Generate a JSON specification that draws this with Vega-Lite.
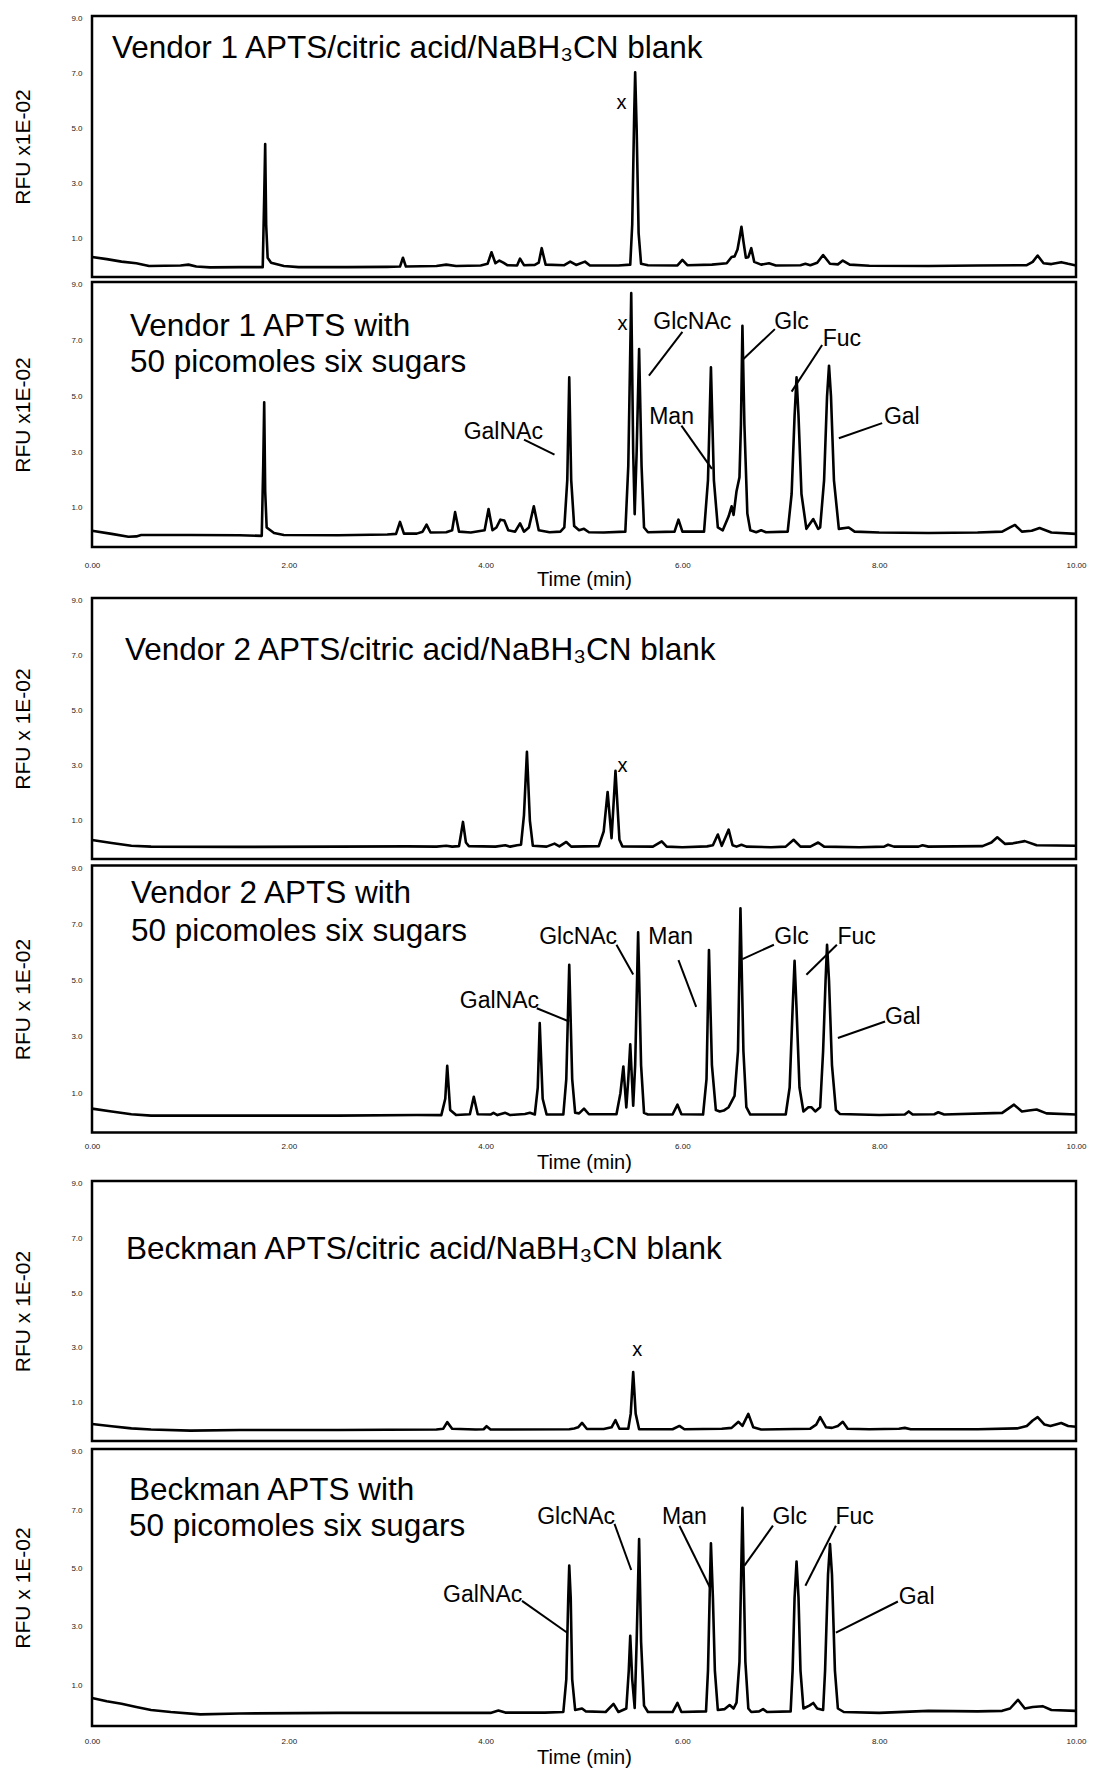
{
  "$schema": "https://vega.github.io/schema/vega-lite/v6.json",
  "background": "white",
  "padding": {"left": 11, "top": 13, "right": 5, "bottom": 0},
  "spacing": 4,
  "config": {
    "font": "Liberation Sans",
    "view": {"stroke": "black", "strokeWidth": 2.5},
    "axis": {"grid": false, "ticks": false, "domain": false, "labelFontSize": 8, "labelColor": "#222", "titleFontWeight": "normal", "titleColor": "black"},
    "axisY": {"labelPadding": 10, "titleFontSize": 21, "titlePadding": 37},
    "axisX": {"titleFontSize": 20, "labelFlush": false, "labelOverlap": false}
  },
  "datasets": {
    "tr1": [
      {"t":0,"v":0.33},{"t":0.15,"v":0.25},{"t":0.3,"v":0.16},{"t":0.45,"v":0.1},{"t":0.58,"v":0.0},{"t":0.9,"v":0.02},{"t":0.98,"v":0.05},{"t":1.06,"v":-0.02},{"t":1.2,"v":-0.05},{"t":1.5,"v":-0.04},{"t":1.735,"v":-0.04},{"t":1.75,"v":2.5},{"t":1.76,"v":4.44},{"t":1.77,"v":1.5},{"t":1.785,"v":0.3},{"t":1.82,"v":0.12},{"t":1.95,"v":0.0},{"t":2.1,"v":-0.04},{"t":2.6,"v":-0.04},{"t":3.0,"v":-0.03},{"t":3.13,"v":-0.02},{"t":3.16,"v":0.3},{"t":3.19,"v":-0.02},{"t":3.5,"v":0.0},{"t":3.6,"v":0.05},{"t":3.7,"v":0.0},{"t":3.95,"v":0.02},{"t":4.02,"v":0.08},{"t":4.06,"v":0.5},{"t":4.1,"v":0.1},{"t":4.14,"v":0.2},{"t":4.18,"v":0.12},{"t":4.22,"v":0.03},{"t":4.32,"v":0.02},{"t":4.35,"v":0.27},{"t":4.39,"v":0.03},{"t":4.5,"v":0.04},{"t":4.54,"v":0.12},{"t":4.57,"v":0.65},{"t":4.61,"v":0.05},{"t":4.8,"v":0.03},{"t":4.86,"v":0.16},{"t":4.92,"v":0.04},{"t":5.01,"v":0.16},{"t":5.06,"v":0.02},{"t":5.35,"v":0.02},{"t":5.47,"v":0.05},{"t":5.49,"v":1.5},{"t":5.51,"v":5.5},{"t":5.52,"v":7.05},{"t":5.535,"v":5.0},{"t":5.555,"v":1.2},{"t":5.58,"v":0.08},{"t":5.65,"v":0.03},{"t":5.95,"v":0.02},{"t":6.0,"v":0.22},{"t":6.05,"v":0.03},{"t":6.3,"v":0.05},{"t":6.45,"v":0.1},{"t":6.5,"v":0.33},{"t":6.53,"v":0.35},{"t":6.56,"v":0.6},{"t":6.58,"v":1.0},{"t":6.6,"v":1.43},{"t":6.62,"v":0.9},{"t":6.645,"v":0.3},{"t":6.67,"v":0.32},{"t":6.7,"v":0.65},{"t":6.73,"v":0.15},{"t":6.8,"v":0.05},{"t":6.88,"v":0.1},{"t":6.95,"v":0.02},{"t":7.2,"v":0.03},{"t":7.25,"v":0.08},{"t":7.3,"v":0.03},{"t":7.37,"v":0.12},{"t":7.43,"v":0.4},{"t":7.5,"v":0.08},{"t":7.58,"v":0.06},{"t":7.63,"v":0.2},{"t":7.7,"v":0.05},{"t":7.9,"v":0.01},{"t":8.5,"v":0.0},{"t":9.0,"v":0.02},{"t":9.5,"v":0.03},{"t":9.56,"v":0.15},{"t":9.61,"v":0.38},{"t":9.67,"v":0.1},{"t":9.75,"v":0.07},{"t":9.85,"v":0.14},{"t":9.92,"v":0.08},{"t":10,"v":0.02}
    ],
    "tr2": [
      {"t":0,"v":0.18},{"t":0.2,"v":0.07},{"t":0.37,"v":-0.03},{"t":0.45,"v":-0.02},{"t":0.5,"v":0.03},{"t":1.0,"v":0.03},{"t":1.5,"v":0.02},{"t":1.725,"v":0.0},{"t":1.74,"v":2.5},{"t":1.75,"v":4.79},{"t":1.76,"v":1.6},{"t":1.775,"v":0.3},{"t":1.85,"v":0.1},{"t":1.95,"v":0.03},{"t":2.5,"v":0.02},{"t":3.0,"v":0.05},{"t":3.09,"v":0.07},{"t":3.13,"v":0.5},{"t":3.17,"v":0.08},{"t":3.3,"v":0.08},{"t":3.36,"v":0.15},{"t":3.4,"v":0.4},{"t":3.44,"v":0.12},{"t":3.6,"v":0.13},{"t":3.66,"v":0.2},{"t":3.69,"v":0.85},{"t":3.73,"v":0.15},{"t":3.85,"v":0.12},{"t":3.99,"v":0.2},{"t":4.03,"v":0.96},{"t":4.07,"v":0.2},{"t":4.11,"v":0.3},{"t":4.15,"v":0.58},{"t":4.19,"v":0.55},{"t":4.23,"v":0.2},{"t":4.3,"v":0.15},{"t":4.35,"v":0.45},{"t":4.39,"v":0.15},{"t":4.44,"v":0.3},{"t":4.49,"v":1.06},{"t":4.54,"v":0.2},{"t":4.65,"v":0.13},{"t":4.76,"v":0.15},{"t":4.8,"v":0.3},{"t":4.83,"v":2.0},{"t":4.85,"v":5.68},{"t":4.87,"v":2.0},{"t":4.9,"v":0.35},{"t":4.95,"v":0.2},{"t":5.0,"v":0.25},{"t":5.05,"v":0.13},{"t":5.2,"v":0.12},{"t":5.42,"v":0.15},{"t":5.45,"v":2.5},{"t":5.48,"v":8.7},{"t":5.5,"v":3.0},{"t":5.515,"v":0.78},{"t":5.535,"v":3.0},{"t":5.56,"v":6.7},{"t":5.585,"v":2.5},{"t":5.61,"v":0.3},{"t":5.65,"v":0.13},{"t":5.92,"v":0.15},{"t":5.96,"v":0.58},{"t":6.0,"v":0.15},{"t":6.22,"v":0.15},{"t":6.26,"v":2.0},{"t":6.29,"v":6.04},{"t":6.32,"v":2.0},{"t":6.36,"v":0.3},{"t":6.41,"v":0.2},{"t":6.47,"v":0.7},{"t":6.5,"v":1.06},{"t":6.52,"v":0.75},{"t":6.55,"v":1.6},{"t":6.58,"v":2.1},{"t":6.595,"v":4.0},{"t":6.61,"v":7.53},{"t":6.63,"v":4.0},{"t":6.66,"v":0.8},{"t":6.69,"v":0.2},{"t":6.75,"v":0.13},{"t":6.8,"v":0.2},{"t":6.85,"v":0.13},{"t":7.07,"v":0.15},{"t":7.11,"v":1.5},{"t":7.14,"v":4.3},{"t":7.16,"v":5.68},{"t":7.18,"v":4.3},{"t":7.21,"v":1.5},{"t":7.26,"v":0.25},{"t":7.33,"v":0.6},{"t":7.38,"v":0.25},{"t":7.4,"v":0.3},{"t":7.44,"v":2.0},{"t":7.47,"v":5.0},{"t":7.49,"v":6.1},{"t":7.51,"v":5.0},{"t":7.54,"v":2.0},{"t":7.59,"v":0.25},{"t":7.69,"v":0.3},{"t":7.75,"v":0.15},{"t":8.0,"v":0.12},{"t":8.5,"v":0.1},{"t":9.0,"v":0.12},{"t":9.25,"v":0.15},{"t":9.33,"v":0.3},{"t":9.38,"v":0.39},{"t":9.45,"v":0.15},{"t":9.55,"v":0.18},{"t":9.63,"v":0.28},{"t":9.75,"v":0.12},{"t":10,"v":0.07}
    ],
    "tr3": [
      {"t":0,"v":0.29},{"t":0.2,"v":0.18},{"t":0.4,"v":0.08},{"t":0.6,"v":0.05},{"t":1.5,"v":0.04},{"t":2.5,"v":0.05},{"t":3.2,"v":0.06},{"t":3.5,"v":0.05},{"t":3.6,"v":0.08},{"t":3.66,"v":0.05},{"t":3.73,"v":0.07},{"t":3.75,"v":0.5},{"t":3.77,"v":0.95},{"t":3.8,"v":0.2},{"t":3.83,"v":0.07},{"t":4.1,"v":0.05},{"t":4.2,"v":0.1},{"t":4.25,"v":0.05},{"t":4.32,"v":0.1},{"t":4.36,"v":0.12},{"t":4.39,"v":1.2},{"t":4.42,"v":3.5},{"t":4.45,"v":1.0},{"t":4.48,"v":0.08},{"t":4.62,"v":0.05},{"t":4.7,"v":0.16},{"t":4.75,"v":0.06},{"t":4.82,"v":0.22},{"t":4.87,"v":0.05},{"t":5.15,"v":0.07},{"t":5.2,"v":0.6},{"t":5.24,"v":2.04},{"t":5.28,"v":0.36},{"t":5.32,"v":2.81},{"t":5.36,"v":0.3},{"t":5.39,"v":0.06},{"t":5.7,"v":0.05},{"t":5.79,"v":0.24},{"t":5.84,"v":0.05},{"t":6.0,"v":0.03},{"t":6.25,"v":0.06},{"t":6.31,"v":0.1},{"t":6.36,"v":0.49},{"t":6.4,"v":0.08},{"t":6.47,"v":0.67},{"t":6.51,"v":0.1},{"t":6.55,"v":0.05},{"t":6.6,"v":0.12},{"t":6.65,"v":0.05},{"t":6.9,"v":0.03},{"t":7.05,"v":0.05},{"t":7.13,"v":0.3},{"t":7.2,"v":0.05},{"t":7.3,"v":0.05},{"t":7.38,"v":0.2},{"t":7.44,"v":0.05},{"t":7.8,"v":0.03},{"t":8.05,"v":0.05},{"t":8.09,"v":0.12},{"t":8.15,"v":0.05},{"t":8.4,"v":0.05},{"t":8.44,"v":0.1},{"t":8.5,"v":0.05},{"t":9.05,"v":0.07},{"t":9.14,"v":0.2},{"t":9.2,"v":0.39},{"t":9.28,"v":0.15},{"t":9.36,"v":0.17},{"t":9.48,"v":0.25},{"t":9.6,"v":0.1},{"t":10,"v":0.08}
    ],
    "tr4": [
      {"t":0,"v":0.45},{"t":0.2,"v":0.35},{"t":0.4,"v":0.25},{"t":0.6,"v":0.2},{"t":1.5,"v":0.2},{"t":2.5,"v":0.2},{"t":3.3,"v":0.22},{"t":3.55,"v":0.22},{"t":3.59,"v":0.8},{"t":3.61,"v":1.97},{"t":3.64,"v":0.4},{"t":3.7,"v":0.22},{"t":3.84,"v":0.25},{"t":3.88,"v":0.87},{"t":3.92,"v":0.25},{"t":4.05,"v":0.24},{"t":4.08,"v":0.3},{"t":4.12,"v":0.22},{"t":4.2,"v":0.3},{"t":4.25,"v":0.22},{"t":4.4,"v":0.26},{"t":4.45,"v":0.3},{"t":4.5,"v":0.24},{"t":4.53,"v":1.2},{"t":4.55,"v":3.49},{"t":4.58,"v":0.8},{"t":4.62,"v":0.24},{"t":4.79,"v":0.24},{"t":4.82,"v":1.5},{"t":4.85,"v":5.57},{"t":4.88,"v":1.5},{"t":4.91,"v":0.3},{"t":4.95,"v":0.28},{"t":5.0,"v":0.45},{"t":5.05,"v":0.25},{"t":5.33,"v":0.25},{"t":5.37,"v":1.0},{"t":5.4,"v":1.95},{"t":5.43,"v":0.49},{"t":5.45,"v":1.5},{"t":5.47,"v":2.74},{"t":5.5,"v":0.55},{"t":5.52,"v":2.0},{"t":5.55,"v":6.72},{"t":5.58,"v":2.0},{"t":5.61,"v":0.3},{"t":5.65,"v":0.24},{"t":5.9,"v":0.24},{"t":5.95,"v":0.59},{"t":5.99,"v":0.25},{"t":6.21,"v":0.24},{"t":6.245,"v":1.5},{"t":6.27,"v":6.09},{"t":6.3,"v":2.0},{"t":6.34,"v":0.4},{"t":6.38,"v":0.35},{"t":6.42,"v":0.38},{"t":6.47,"v":0.5},{"t":6.53,"v":0.9},{"t":6.565,"v":2.5},{"t":6.59,"v":7.58},{"t":6.62,"v":2.5},{"t":6.65,"v":0.5},{"t":6.69,"v":0.24},{"t":7.05,"v":0.24},{"t":7.09,"v":1.2},{"t":7.12,"v":4.0},{"t":7.14,"v":5.71},{"t":7.16,"v":4.0},{"t":7.19,"v":1.2},{"t":7.23,"v":0.35},{"t":7.28,"v":0.5},{"t":7.31,"v":0.5},{"t":7.35,"v":0.35},{"t":7.4,"v":0.5},{"t":7.43,"v":2.5},{"t":7.455,"v":5.0},{"t":7.47,"v":6.28},{"t":7.49,"v":5.0},{"t":7.52,"v":2.0},{"t":7.56,"v":0.4},{"t":7.6,"v":0.26},{"t":8.0,"v":0.22},{"t":8.26,"v":0.24},{"t":8.3,"v":0.35},{"t":8.34,"v":0.24},{"t":8.56,"v":0.25},{"t":8.6,"v":0.32},{"t":8.66,"v":0.24},{"t":9.25,"v":0.3},{"t":9.37,"v":0.59},{"t":9.45,"v":0.35},{"t":9.52,"v":0.38},{"t":9.6,"v":0.42},{"t":9.7,"v":0.28},{"t":10,"v":0.24}
    ],
    "tr5": [
      {"t":0,"v":0.22},{"t":0.2,"v":0.14},{"t":0.4,"v":0.06},{"t":0.6,"v":0.02},{"t":1.0,"v":-0.02},{"t":1.5,"v":0.0},{"t":2.5,"v":0.0},{"t":3.5,"v":0.02},{"t":3.57,"v":0.05},{"t":3.61,"v":0.29},{"t":3.66,"v":0.05},{"t":3.9,"v":0.02},{"t":3.98,"v":0.03},{"t":4.01,"v":0.14},{"t":4.05,"v":0.02},{"t":4.85,"v":0.03},{"t":4.9,"v":0.06},{"t":4.94,"v":0.1},{"t":4.98,"v":0.26},{"t":5.03,"v":0.04},{"t":5.2,"v":0.04},{"t":5.28,"v":0.1},{"t":5.32,"v":0.36},{"t":5.36,"v":0.05},{"t":5.45,"v":0.05},{"t":5.475,"v":0.6},{"t":5.5,"v":2.12},{"t":5.525,"v":0.6},{"t":5.56,"v":0.03},{"t":5.9,"v":0.03},{"t":5.97,"v":0.15},{"t":6.02,"v":0.03},{"t":6.4,"v":0.05},{"t":6.5,"v":0.08},{"t":6.57,"v":0.3},{"t":6.61,"v":0.15},{"t":6.67,"v":0.59},{"t":6.72,"v":0.1},{"t":6.8,"v":0.02},{"t":7.3,"v":0.05},{"t":7.36,"v":0.2},{"t":7.4,"v":0.47},{"t":7.46,"v":0.1},{"t":7.52,"v":0.08},{"t":7.58,"v":0.15},{"t":7.63,"v":0.3},{"t":7.68,"v":0.05},{"t":7.9,"v":0.03},{"t":8.2,"v":0.05},{"t":8.26,"v":0.08},{"t":8.32,"v":0.03},{"t":9.0,"v":0.03},{"t":9.4,"v":0.06},{"t":9.5,"v":0.15},{"t":9.56,"v":0.35},{"t":9.61,"v":0.47},{"t":9.68,"v":0.2},{"t":9.74,"v":0.15},{"t":9.85,"v":0.26},{"t":9.92,"v":0.15},{"t":10,"v":0.12}
    ],
    "tr6": [
      {"t":0,"v":0.56},{"t":0.15,"v":0.45},{"t":0.3,"v":0.36},{"t":0.45,"v":0.25},{"t":0.6,"v":0.15},{"t":0.8,"v":0.08},{"t":1.1,"v":0.0},{"t":1.5,"v":0.03},{"t":2.5,"v":0.05},{"t":3.5,"v":0.05},{"t":4.05,"v":0.05},{"t":4.13,"v":0.13},{"t":4.2,"v":0.06},{"t":4.6,"v":0.06},{"t":4.79,"v":0.08},{"t":4.82,"v":1.2},{"t":4.84,"v":4.0},{"t":4.85,"v":5.1},{"t":4.865,"v":4.0},{"t":4.88,"v":1.2},{"t":4.91,"v":0.15},{"t":4.98,"v":0.2},{"t":5.02,"v":0.1},{"t":5.22,"v":0.08},{"t":5.3,"v":0.36},{"t":5.35,"v":0.08},{"t":5.43,"v":0.2},{"t":5.455,"v":1.5},{"t":5.47,"v":2.69},{"t":5.49,"v":1.2},{"t":5.515,"v":0.22},{"t":5.535,"v":2.5},{"t":5.56,"v":6.01},{"t":5.58,"v":2.5},{"t":5.61,"v":0.3},{"t":5.65,"v":0.08},{"t":5.9,"v":0.08},{"t":5.95,"v":0.39},{"t":5.99,"v":0.08},{"t":6.24,"v":0.1},{"t":6.26,"v":1.5},{"t":6.28,"v":4.5},{"t":6.29,"v":5.87},{"t":6.31,"v":4.0},{"t":6.33,"v":1.5},{"t":6.36,"v":0.15},{"t":6.43,"v":0.18},{"t":6.48,"v":0.32},{"t":6.52,"v":0.2},{"t":6.55,"v":0.4},{"t":6.58,"v":1.8},{"t":6.61,"v":7.08},{"t":6.64,"v":1.8},{"t":6.67,"v":0.2},{"t":6.7,"v":0.08},{"t":6.78,"v":0.1},{"t":6.82,"v":0.18},{"t":6.86,"v":0.08},{"t":7.1,"v":0.1},{"t":7.12,"v":1.5},{"t":7.14,"v":4.0},{"t":7.16,"v":5.24},{"t":7.18,"v":4.0},{"t":7.2,"v":1.5},{"t":7.23,"v":0.2},{"t":7.29,"v":0.3},{"t":7.33,"v":0.39},{"t":7.37,"v":0.2},{"t":7.43,"v":0.15},{"t":7.45,"v":1.5},{"t":7.48,"v":4.8},{"t":7.5,"v":5.84},{"t":7.52,"v":4.8},{"t":7.55,"v":1.5},{"t":7.58,"v":0.2},{"t":7.64,"v":0.08},{"t":8.0,"v":0.05},{"t":8.5,"v":0.12},{"t":9.0,"v":0.1},{"t":9.25,"v":0.12},{"t":9.33,"v":0.2},{"t":9.41,"v":0.5},{"t":9.48,"v":0.2},{"t":9.56,"v":0.25},{"t":9.66,"v":0.28},{"t":9.75,"v":0.15},{"t":10,"v":0.12}
    ],
    "ttl": [
      {"p":1,"t":0.203,"v":7.57,"text":"Vendor 1 APTS/citric acid/NaBH₃CN blank"},
      {"p":2,"t":0.386,"v":7.16,"text":"Vendor 1 APTS with"},
      {"p":2,"t":0.386,"v":5.87,"text":"50 picomoles six sugars"},
      {"p":3,"t":0.335,"v":6.84,"text":"Vendor 2 APTS/citric acid/NaBH₃CN blank"},
      {"p":4,"t":0.396,"v":7.75,"text":"Vendor 2 APTS with"},
      {"p":4,"t":0.396,"v":6.43,"text":"50 picomoles six sugars"},
      {"p":5,"t":0.346,"v":6.25,"text":"Beckman APTS/citric acid/NaBH₃CN blank"},
      {"p":6,"t":0.376,"v":7.35,"text":"Beckman APTS with"},
      {"p":6,"t":0.376,"v":6.11,"text":"50 picomoles six sugars"}
    ],
    "xl": [
      {"p":1,"t":5.38,"v":5.93,"text":"x"},
      {"p":2,"t":5.39,"v":7.59,"text":"x"},
      {"p":3,"t":5.39,"v":2.97,"text":"x"},
      {"p":5,"t":5.54,"v":2.94,"text":"x"}
    ],
    "ann": [
      {"p":2,"t":6.10,"v":7.66,"text":"GlcNAc"},
      {"p":2,"t":7.11,"v":7.66,"text":"Glc"},
      {"p":2,"t":7.62,"v":7.06,"text":"Fuc"},
      {"p":2,"t":5.89,"v":4.25,"text":"Man"},
      {"p":2,"t":4.18,"v":3.71,"text":"GalNAc"},
      {"p":2,"t":8.23,"v":4.26,"text":"Gal"},
      {"p":4,"t":4.94,"v":6.56,"text":"GlcNAc"},
      {"p":4,"t":5.88,"v":6.56,"text":"Man"},
      {"p":4,"t":7.11,"v":6.56,"text":"Glc"},
      {"p":4,"t":7.77,"v":6.56,"text":"Fuc"},
      {"p":4,"t":4.14,"v":4.29,"text":"GalNAc"},
      {"p":4,"t":8.24,"v":3.72,"text":"Gal"},
      {"p":6,"t":4.92,"v":6.76,"text":"GlcNAc"},
      {"p":6,"t":6.02,"v":6.76,"text":"Man"},
      {"p":6,"t":7.09,"v":6.76,"text":"Glc"},
      {"p":6,"t":7.75,"v":6.76,"text":"Fuc"},
      {"p":6,"t":3.97,"v":4.10,"text":"GalNAc"},
      {"p":6,"t":8.38,"v":4.03,"text":"Gal"}
    ],
    "ldr": [
      {"p":2,"t":6.0,"v":7.31,"t2":5.66,"v2":5.74},
      {"p":2,"t":6.94,"v":7.41,"t2":6.62,"v2":6.34},
      {"p":2,"t":7.42,"v":6.84,"t2":7.11,"v2":5.17},
      {"p":2,"t":5.99,"v":3.95,"t2":6.30,"v2":2.40},
      {"p":2,"t":4.39,"v":3.45,"t2":4.70,"v2":2.91},
      {"p":2,"t":8.03,"v":4.04,"t2":7.59,"v2":3.50},
      {"p":4,"t":5.33,"v":6.28,"t2":5.50,"v2":5.22},
      {"p":4,"t":5.96,"v":5.73,"t2":6.14,"v2":4.07},
      {"p":4,"t":6.93,"v":6.28,"t2":6.61,"v2":5.77},
      {"p":4,"t":7.57,"v":6.28,"t2":7.26,"v2":5.21},
      {"p":4,"t":4.52,"v":4.02,"t2":4.85,"v2":3.55},
      {"p":4,"t":8.06,"v":3.55,"t2":7.58,"v2":2.96},
      {"p":6,"t":5.31,"v":6.53,"t2":5.48,"v2":4.95},
      {"p":6,"t":5.97,"v":6.47,"t2":6.28,"v2":4.35},
      {"p":6,"t":6.92,"v":6.47,"t2":6.63,"v2":5.10},
      {"p":6,"t":7.56,"v":6.47,"t2":7.25,"v2":4.41},
      {"p":6,"t":4.37,"v":3.89,"t2":4.83,"v2":2.80},
      {"p":6,"t":8.19,"v":3.87,"t2":7.56,"v2":2.80}
    ]
  },
  "vconcat": [
    {
      "spacing": 0,
      "vconcat": [
        {
          "width": 984, "height": 261,
          "encoding": {
            "x": {"field": "t", "type": "quantitative", "scale": {"domain": [0, 10], "nice": false, "zero": false}, "axis": null},
            "y": {"field": "v", "type": "quantitative", "scale": {"domain": [-0.4, 9.1], "nice": false, "zero": false}, "axis": {"title": "RFU x1E-02", "values": [1, 3, 5, 7, 9], "format": ".1f"}}
          },
          "layer": [
            {"data": {"name": "tr1"}, "mark": {"type": "line", "color": "black", "strokeWidth": 2.6, "strokeJoin": "round"}},
            {"data": {"name": "ttl"}, "transform": [{"filter": "datum.p == 1"}], "mark": {"type": "text", "fontSize": 31.5, "align": "left", "baseline": "alphabetic", "color": "black"}, "encoding": {"text": {"field": "text"}}},
            {"data": {"name": "xl"}, "transform": [{"filter": "datum.p == 1"}], "mark": {"type": "text", "fontSize": 20, "align": "center", "baseline": "middle", "color": "black"}, "encoding": {"text": {"field": "text"}}}
          ]
        },
        {
          "width": 984, "height": 265,
          "encoding": {
            "x": {"field": "t", "type": "quantitative", "scale": {"domain": [0, 10], "nice": false, "zero": false}, "axis": {"title": "Time (min)", "values": [0, 2, 4, 6, 8, 10], "format": ".2f", "labelPadding": 14.5, "titlePadding": 0}},
            "y": {"field": "v", "type": "quantitative", "scale": {"domain": [-0.4, 9.1], "nice": false, "zero": false}, "axis": {"title": "RFU x1E-02", "values": [1, 3, 5, 7, 9], "format": ".1f"}}
          },
          "layer": [
            {"data": {"name": "tr2"}, "mark": {"type": "line", "color": "black", "strokeWidth": 2.6, "strokeJoin": "round"}},
            {"data": {"name": "ttl"}, "transform": [{"filter": "datum.p == 2"}], "mark": {"type": "text", "fontSize": 31.5, "align": "left", "baseline": "alphabetic", "color": "black"}, "encoding": {"text": {"field": "text"}}},
            {"data": {"name": "xl"}, "transform": [{"filter": "datum.p == 2"}], "mark": {"type": "text", "fontSize": 20, "align": "center", "baseline": "middle", "color": "black"}, "encoding": {"text": {"field": "text"}}},
            {"data": {"name": "ann"}, "transform": [{"filter": "datum.p == 2"}], "mark": {"type": "text", "fontSize": 23, "align": "center", "baseline": "middle", "color": "black"}, "encoding": {"text": {"field": "text"}}},
            {"data": {"name": "ldr"}, "transform": [{"filter": "datum.p == 2"}], "mark": {"type": "rule", "color": "black", "strokeWidth": 2}, "encoding": {"x2": {"field": "t2"}, "y2": {"field": "v2"}}}
          ]
        }
      ]
    },
    {
      "spacing": 1.5,
      "vconcat": [
        {
          "width": 984, "height": 261,
          "encoding": {
            "x": {"field": "t", "type": "quantitative", "scale": {"domain": [0, 10], "nice": false, "zero": false}, "axis": null},
            "y": {"field": "v", "type": "quantitative", "scale": {"domain": [-0.4, 9.1], "nice": false, "zero": false}, "axis": {"title": "RFU x 1E-02", "values": [1, 3, 5, 7, 9], "format": ".1f"}}
          },
          "layer": [
            {"data": {"name": "tr3"}, "mark": {"type": "line", "color": "black", "strokeWidth": 2.6, "strokeJoin": "round"}},
            {"data": {"name": "ttl"}, "transform": [{"filter": "datum.p == 3"}], "mark": {"type": "text", "fontSize": 31.5, "align": "left", "baseline": "alphabetic", "color": "black"}, "encoding": {"text": {"field": "text"}}},
            {"data": {"name": "xl"}, "transform": [{"filter": "datum.p == 3"}], "mark": {"type": "text", "fontSize": 20, "align": "center", "baseline": "middle", "color": "black"}, "encoding": {"text": {"field": "text"}}}
          ]
        },
        {
          "width": 984, "height": 267,
          "encoding": {
            "x": {"field": "t", "type": "quantitative", "scale": {"domain": [0, 10], "nice": false, "zero": false}, "axis": {"title": "Time (min)", "values": [0, 2, 4, 6, 8, 10], "format": ".2f", "labelPadding": 9.5, "titlePadding": 2}},
            "y": {"field": "v", "type": "quantitative", "scale": {"domain": [-0.4, 9.1], "nice": false, "zero": false}, "axis": {"title": "RFU x 1E-02", "values": [1, 3, 5, 7, 9], "format": ".1f"}}
          },
          "layer": [
            {"data": {"name": "tr4"}, "mark": {"type": "line", "color": "black", "strokeWidth": 2.6, "strokeJoin": "round"}},
            {"data": {"name": "ttl"}, "transform": [{"filter": "datum.p == 4"}], "mark": {"type": "text", "fontSize": 31.5, "align": "left", "baseline": "alphabetic", "color": "black"}, "encoding": {"text": {"field": "text"}}},
            {"data": {"name": "ann"}, "transform": [{"filter": "datum.p == 4"}], "mark": {"type": "text", "fontSize": 23, "align": "center", "baseline": "middle", "color": "black"}, "encoding": {"text": {"field": "text"}}},
            {"data": {"name": "ldr"}, "transform": [{"filter": "datum.p == 4"}], "mark": {"type": "rule", "color": "black", "strokeWidth": 2}, "encoding": {"x2": {"field": "t2"}, "y2": {"field": "v2"}}}
          ]
        }
      ]
    },
    {
      "spacing": 3,
      "vconcat": [
        {
          "width": 984, "height": 260,
          "encoding": {
            "x": {"field": "t", "type": "quantitative", "scale": {"domain": [0, 10], "nice": false, "zero": false}, "axis": null},
            "y": {"field": "v", "type": "quantitative", "scale": {"domain": [-0.4, 9.1], "nice": false, "zero": false}, "axis": {"title": "RFU x 1E-02", "values": [1, 3, 5, 7, 9], "format": ".1f"}}
          },
          "layer": [
            {"data": {"name": "tr5"}, "mark": {"type": "line", "color": "black", "strokeWidth": 2.6, "strokeJoin": "round"}},
            {"data": {"name": "ttl"}, "transform": [{"filter": "datum.p == 5"}], "mark": {"type": "text", "fontSize": 31.5, "align": "left", "baseline": "alphabetic", "color": "black"}, "encoding": {"text": {"field": "text"}}},
            {"data": {"name": "xl"}, "transform": [{"filter": "datum.p == 5"}], "mark": {"type": "text", "fontSize": 20, "align": "center", "baseline": "middle", "color": "black"}, "encoding": {"text": {"field": "text"}}}
          ]
        },
        {
          "width": 984, "height": 277,
          "encoding": {
            "x": {"field": "t", "type": "quantitative", "scale": {"domain": [0, 10], "nice": false, "zero": false}, "axis": {"title": "Time (min)", "values": [0, 2, 4, 6, 8, 10], "format": ".2f", "labelPadding": 11.5, "titlePadding": 2}},
            "y": {"field": "v", "type": "quantitative", "scale": {"domain": [-0.4, 9.1], "nice": false, "zero": false}, "axis": {"title": "RFU x 1E-02", "values": [1, 3, 5, 7, 9], "format": ".1f"}}
          },
          "layer": [
            {"data": {"name": "tr6"}, "mark": {"type": "line", "color": "black", "strokeWidth": 2.6, "strokeJoin": "round"}},
            {"data": {"name": "ttl"}, "transform": [{"filter": "datum.p == 6"}], "mark": {"type": "text", "fontSize": 31.5, "align": "left", "baseline": "alphabetic", "color": "black"}, "encoding": {"text": {"field": "text"}}},
            {"data": {"name": "ann"}, "transform": [{"filter": "datum.p == 6"}], "mark": {"type": "text", "fontSize": 23, "align": "center", "baseline": "middle", "color": "black"}, "encoding": {"text": {"field": "text"}}},
            {"data": {"name": "ldr"}, "transform": [{"filter": "datum.p == 6"}], "mark": {"type": "rule", "color": "black", "strokeWidth": 2}, "encoding": {"x2": {"field": "t2"}, "y2": {"field": "v2"}}}
          ]
        }
      ]
    }
  ]
}
